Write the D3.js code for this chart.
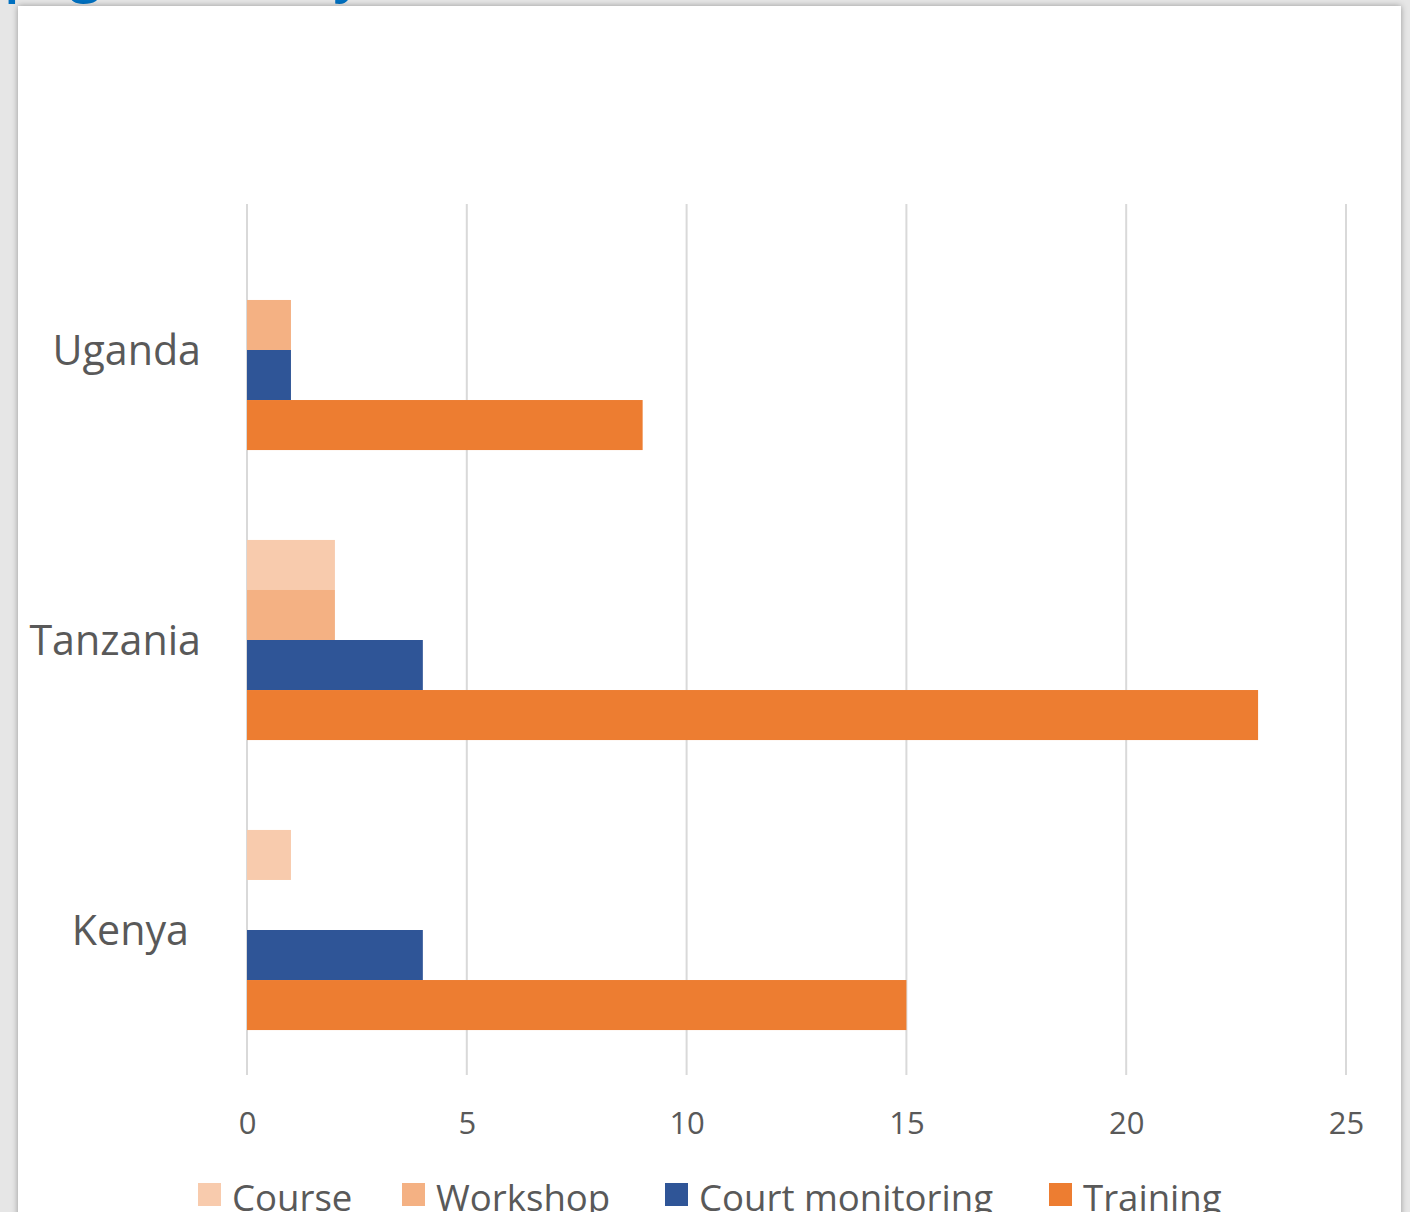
<!DOCTYPE html>
<html><head><meta charset="utf-8">
<script src="https://cdn.jsdelivr.net/npm/d3@7"></script>
<style>html,body{margin:0;padding:0;background:#e6e6e6;overflow:hidden}</style>
</head><body>
<svg id="chart" width="1410" height="1212"></svg>
<script>
const categories = ["Uganda", "Tanzania", "Kenya"];
const seriesNames = ["Course", "Workshop", "Court monitoring", "Training"];
const course = [0, 2, 1];
const workshop = [1, 2, 0];
const courtMonitoring = [1, 4, 4];
const training = [9, 23, 15];
const xTicks = [0, 5, 10, 15, 20, 25];
const colors = ["#F8CBAD", "#F4B183", "#2F5597", "#ED7D31"];

const seriesValues = [course, workshop, courtMonitoring, training];
const svg = d3.select("#chart");
const defs = svg.append("defs");
const f = defs.append("filter").attr("id","sh").attr("x","-5%").attr("y","-5%").attr("width","110%").attr("height","110%");
f.append("feDropShadow").attr("dx",0).attr("dy",0).attr("stdDeviation",3).attr("flood-color","#000").attr("flood-opacity",0.35);
defs.append("clipPath").attr("id","topclip").append("rect").attr("x",0).attr("y",0).attr("width",1410).attr("height",6);

// title fragment (cut off above panel, only descenders visible)
svg.append("text").attr("clip-path","url(#topclip)")
  .attr("font-family","Open Sans").attr("font-size",56).attr("font-weight",600).attr("fill","#0070C0")
  .attr("y",-9)
  .selectAll("tspan").data([["p",4],["g",70],["y",334]]).join("tspan")
  .attr("x",d=>d[1]).text(d=>d[0]);

svg.append("rect").attr("x",18).attr("y",6).attr("width",1383).attr("height",1230)
  .attr("fill","#fff").attr("filter","url(#sh)");

const x = d3.scaleLinear().domain([0,25]).range([247,1346]);
const y = d3.scaleBand().domain(categories).range([205,1075]).paddingInner(0.31).paddingOuter(0.155);
const yInner = d3.scaleBand().domain(seriesNames).range([0,y.bandwidth()]);

const font = "'Open Sans', sans-serif";
// gridlines
svg.append("g").selectAll("line").data(xTicks).join("line")
  .attr("x1",d=>x(d)).attr("x2",d=>x(d)).attr("y1",204).attr("y2",1075)
  .attr("stroke","#d9d9d9").attr("stroke-width",2);

// x axis labels
const xAxis = d3.axisBottom(x).tickValues(xTicks).tickSize(0).tickPadding(0);
const gx = svg.append("g").attr("transform","translate(0,1134)").call(xAxis);
gx.select(".domain").remove();
gx.selectAll("text").attr("dy",0).attr("y",0).attr("font-family",font).attr("font-size",31).attr("fill","#595959");

// y axis labels
const yAxis = d3.axisLeft(y).tickSize(0).tickPadding(0);
const gy = svg.append("g").attr("transform","translate(201,0)").call(yAxis);
gy.select(".domain").remove();
gy.selectAll("text").attr("dy","0.36em").attr("x",d=>d==="Kenya"?-12:0).attr("font-family",font).attr("font-size",41.2).attr("fill","#595959");

// bars
seriesNames.forEach((s,si)=>{
  svg.append("g").selectAll("rect").data(categories).join("rect")
    .attr("x",x(0))
    .attr("y",(c)=>y(c)+yInner(s))
    .attr("width",(c,i)=>x(seriesValues[si][i])-x(0))
    .attr("height",yInner.bandwidth())
    .attr("fill",colors[si]);
});

// legend
const legendX = [198, 402, 665, 1049];
const lg = svg.append("g").selectAll("g").data(seriesNames).join("g")
  .attr("transform",(d,i)=>`translate(${legendX[i]},1183)`);
lg.append("rect").attr("width",23).attr("height",23).attr("fill",(d,i)=>colors[i]);
lg.append("text").attr("x",34).attr("y",28).attr("font-family",font).attr("font-size",36.6).attr("fill","#595959").text(d=>d);
</script>
</body></html>
